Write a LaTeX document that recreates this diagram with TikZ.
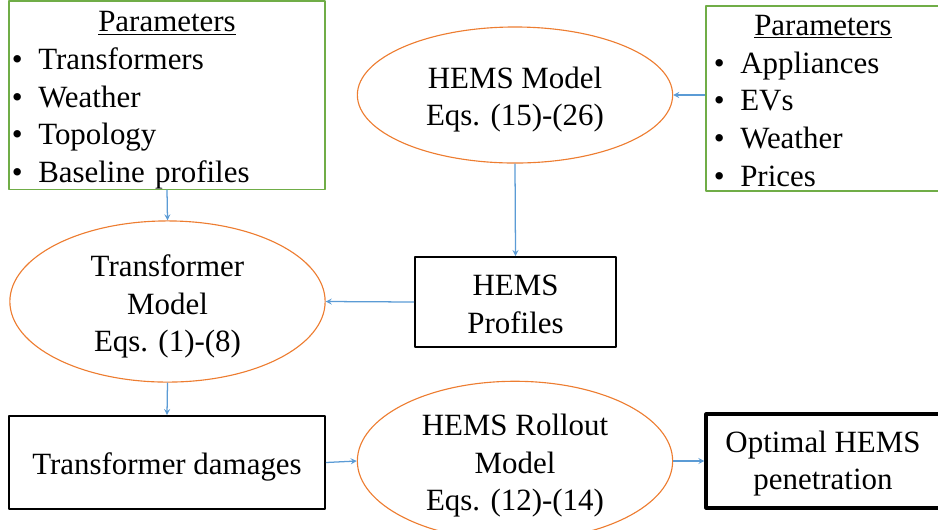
\documentclass[tikz,border=0pt]{standalone}
\usepackage{fontspec}
\setmainfont{LiberationSerif}[Extension=.ttf, UprightFont=*-Regular, BoldFont=*-Bold, ItalicFont=*-Italic]
\usetikzlibrary{shapes.geometric}
\definecolor{pgreen}{HTML}{70AD47}
\definecolor{morange}{HTML}{ED7D31}
\definecolor{abblue}{HTML}{5B9BD5}
\newcommand\st[1][0.77cm]{\rule{0pt}{#1}}
\begin{document}
\begin{tikzpicture}[x=0.025cm, y=-0.025cm, font=\fontsize{22}{26.8}\selectfont, line join=round, >=stealth]
		\tikzset{par/.style={draw=pgreen, line width=0.8pt, rectangle, align=left, inner xsep=0.075cm, inner ysep=0pt},
		mod/.style={draw=morange, line width=0.8pt, ellipse, align=center, inner sep=0pt, minimum width=7.88cm, minimum height=3.4cm},
		res/.style={draw=black, line width=1.3pt, rectangle, align=center, inner sep=0pt},
		con/.style={->, abblue, line width=0.9pt}}
		\useasboundingbox (0,0) rectangle (938,529);
		\node[par, text width=7.75cm, minimum height=4.65cm] (lpar) at (167,95)
			{\st\makebox[7.75cm]{\underline{Parameters}}\\ \textbullet\enspace Transformers\\ \textbullet\enspace Weather\\ \textbullet\enspace Topology\\ \textbullet\enspace Baseline profiles};
		\node[par, inner xsep=0.2cm, text width=5.45cm, minimum height=4.625cm] (rpar) at (823,98.5)
			{\st[0.62cm]\makebox[5.45cm]{\underline{Parameters}}\\ \textbullet\enspace Appliances\\ \textbullet\enspace EVs\\ \textbullet\enspace Weather\\ \textbullet\enspace Prices};
		\node[mod] (hmodel) at (515,95) {\st HEMS Model\\ Eqs. (15)-(26)};
		\node[res, minimum width=5.025cm, minimum height=2.25cm] (prof) at (515.5,302) {\st[0.64cm]HEMS\\ Profiles};
		\node[mod, minimum height=3.43cm] (tmodel) at (167.5,301.5) {\st[0.8cm]Transformer\\ Model\\ Eqs. (1)-(8)};
		\node[res, minimum width=7.9cm, minimum height=2.325cm] (dmg) at (167,462.5) {\st Transformer damages};
		\node[mod, minimum height=3.35cm] (roll) at (515,461) {\st HEMS Rollout\\ Model\\ Eqs. (12)-(14)};
		\node[res, line width=2.2pt, minimum width=5.85cm, minimum height=2.35cm] (opt) at (823,461) {\st[0.67cm]Optimal HEMS\\ penetration};
		\draw[con] (lpar.south) -- (tmodel.north);
		\draw[con] (rpar.west |- hmodel.east) -- (hmodel.east);
		\draw[con] (hmodel.south) -- (prof.north);
		\draw[con] (prof.west) -- (tmodel.east);
		\draw[con] (tmodel.south) -- (dmg.north);
		\draw[con] (dmg.east) -- (roll.west);
		\draw[con] (roll.east) -- (opt.west);
	\end{tikzpicture}
\end{document}
